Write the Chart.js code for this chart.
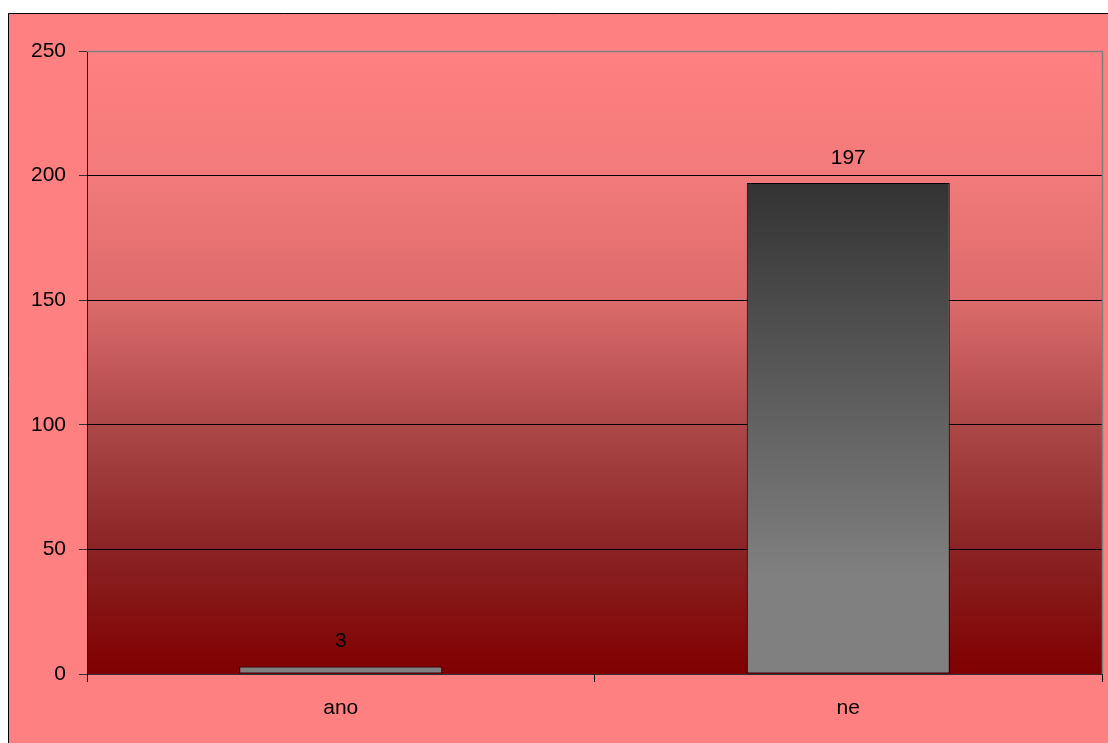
<!DOCTYPE html>
<html>
<head>
<meta charset="utf-8">
<script src="https://cdn.jsdelivr.net/npm/chart.js@4/dist/chart.umd.min.js"></script>
<style>
  html, body { margin: 0; padding: 0; background: #fff; }
  #wrap { width: 1108px; height: 743px; }
</style>
</head>
<body>
<div id="wrap"><canvas id="chart" width="1108" height="743"></canvas></div>
<script>
const categories = ['ano', 'ne'];
const answers = [3, 197];
const yTicks = [0, 50, 100, 150, 200, 250];

const FONT = { family: '"Liberation Sans", Arial, sans-serif', size: 21 };

// outer frame + gradient plot background + top/right border
const backdrop = {
  id: 'backdrop',
  beforeDraw(chart) {
    const { ctx, chartArea: a } = chart;
    ctx.save();
    ctx.fillStyle = '#fff';
    ctx.fillRect(0, 0, chart.width, chart.height);
    ctx.fillStyle = '#FF8080';
    ctx.fillRect(8, 13, chart.width - 8, chart.height - 13);
    ctx.strokeStyle = '#000';
    ctx.lineWidth = 1;
    ctx.beginPath();
    ctx.moveTo(8.5, chart.height);
    ctx.lineTo(8.5, 13.5);
    ctx.lineTo(chart.width, 13.5);
    ctx.stroke();

    const g = ctx.createLinearGradient(0, a.top, 0, a.bottom);
    g.addColorStop(0, '#FF8080');
    g.addColorStop(0.2, '#F27A7A');
    g.addColorStop(0.4, '#DC6B6B');
    g.addColorStop(0.6, '#AC4848');
    g.addColorStop(0.8, '#8A2424');
    g.addColorStop(1, '#800000');
    ctx.fillStyle = g;
    ctx.fillRect(a.left, a.top, a.right - a.left, a.bottom - a.top);
    ctx.restore();
  },
  afterDraw(chart) {
    const { ctx, chartArea: a } = chart;
    const r = Math.round(a.right) + 0.5;
    const t = Math.round(a.top) + 0.5;
    ctx.save();
    ctx.strokeStyle = '#808080';
    ctx.lineWidth = 1.5;
    ctx.beginPath();
    ctx.moveTo(a.left, t);
    ctx.lineTo(r, t);
    ctx.lineTo(r, a.bottom);
    ctx.stroke();
    ctx.restore();
  }
};

// value above each bar
const valueLabels = {
  id: 'valueLabels',
  afterDatasetsDraw(chart) {
    const { ctx } = chart;
    const meta = chart.getDatasetMeta(0);
    ctx.save();
    ctx.font = `${FONT.size}px ${FONT.family}`;
    ctx.fillStyle = '#000';
    ctx.textAlign = 'center';
    ctx.textBaseline = 'middle';
    meta.data.forEach((bar, i) => {
      ctx.fillText(String(answers[i]), bar.x, bar.y - 25);
    });
    ctx.restore();
  }
};

// one shared shading for all bars, dark at the tallest bar's top
function barFill(context) {
  const chart = context.chart;
  if (!chart.chartArea) return '#808080';
  const y = chart.scales.y;
  const top = y.getPixelForValue(Math.max(...answers));
  const bottom = y.getPixelForValue(0);
  const g = chart.ctx.createLinearGradient(0, top, 0, bottom);
  g.addColorStop(0, '#333333');
  g.addColorStop(0.8, '#808080');
  g.addColorStop(1, '#808080');
  return g;
}

new Chart(document.getElementById('chart'), {
  type: 'bar',
  data: {
    labels: categories,
    datasets: [{
      data: answers,
      backgroundColor: barFill,
      borderColor: '#000',
      borderWidth: 1,
      borderSkipped: false,
      barPercentage: 0.8,
      categoryPercentage: 0.5
    }]
  },
  options: {
    responsive: false,
    animation: false,
    layout: { padding: { left: 0, top: 51, right: 6, bottom: 0 } },
    plugins: {
      legend: { display: false },
      tooltip: { enabled: false }
    },
    scales: {
      x: {
        afterFit(scale) { scale.height = 69; },
        grid: {
          drawOnChartArea: false,
          drawTicks: true,
          tickLength: 8,
          tickColor: '#000'
        },
        border: { color: '#333', width: 1 },
        ticks: { color: '#000', font: FONT, padding: 14 }
      },
      y: {
        min: 0,
        max: 250,
        afterFit(scale) { scale.width = 87; },
        afterBuildTicks(scale) { scale.ticks = yTicks.map(v => ({ value: v })); },
        grid: {
          color: ctx => ctx.tick && ctx.tick.value === 250 ? '#808080' : '#000',
          tickColor: '#333',
          tickLength: 8,
          lineWidth: 1
        },
        border: { color: '#000', width: 1 },
        ticks: { color: '#000', font: FONT, padding: 13 }
      }
    }
  },
  plugins: [backdrop, valueLabels]
});
</script>
</body>
</html>
